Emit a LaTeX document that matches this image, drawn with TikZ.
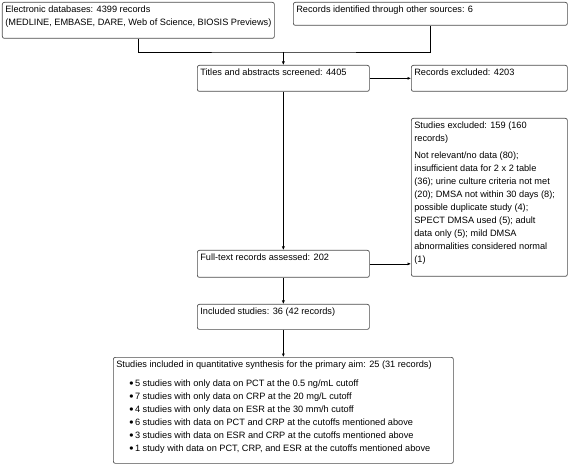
\documentclass[tikz,border=0pt]{standalone}
\usepackage{fontspec}
\setmainfont{Liberation Sans}
\usetikzlibrary{arrows.meta}
\tikzset{
  box/.style={draw=black!70, line width=0.7pt, rounded corners=2pt, anchor=north west, inner sep=3pt, font=\fontsize{9.2}{13}\selectfont},
  conn/.style={draw=black, line width=0.6pt},
  arr/.style={conn, -{Latex[length=3.5pt,width=3pt]}}
}
\newcommand{\boxtext}[3]{\parbox[c][#2][t]{#1}{\raggedright #3}}
\newcommand{\itm}{\hspace*{13pt}\raisebox{-1.2pt}{\fontsize{12}{13}\selectfont\textbullet}\hspace{1.5pt}}
\begin{document}
\begin{tikzpicture}[x=1pt,y=1pt]
  \useasboundingbox (0,0) rectangle (568,-465);
  % sources
  \node[box] (elec) at (2,-2) {\boxtext{266pt}{30pt}{Electronic databases: 4399 records\\(MEDLINE, EMBASE, DARE, Web of Science, BIOSIS Previews)}};
  \node[box] (other) at (293,-2) {\boxtext{268pt}{17pt}{Records identified through other sources: 6}};
  % screening
  \node[box] (screen) at (197,-65) {\boxtext{166pt}{20pt}{Titles and abstracts screened: 4405}};
  \node[box] (excl) at (411,-65) {\boxtext{150pt}{20pt}{Records excluded: 4203}};
  \node[box] (exclft) at (411,-118) {\boxtext{150pt}{152pt}{Studies excluded: 159 (160\\records)\\[4pt]
    Not relevant/no data (80);\\insufficient data for 2 x 2 table\\(36); urine culture criteria not met\\(20); DMSA not within 30 days (8);\\possible duplicate study (4);\\SPECT DMSA used (5); adult\\data only (5); mild DMSA\\abnormalities considered normal\\(1)}};
  \node[box] (fulltext) at (197,-250) {\boxtext{166pt}{21pt}{Full-text records assessed: 202}};
  \node[box] (incl) at (197,-304) {\boxtext{166pt}{19pt}{Included studies: 36 (42 records)}};
  \node[box] (quant) at (113,-357) {\boxtext{334pt}{100pt}{Studies included in quantitative synthesis for the primary aim: 25 (31 records)\\[6pt]
    \itm 5 studies with only data on PCT at the 0.5 ng/mL cutoff\\
    \itm 7 studies with only data on CRP at the 20 mg/L cutoff\\
    \itm 4 studies with only data on ESR at the 30 mm/h cutoff\\
    \itm 6 studies with data on PCT and CRP at the cutoffs mentioned above\\
    \itm 3 studies with data on ESR and CRP at the cutoffs mentioned above\\
    \itm 1 study with data on PCT, CRP, and ESR at the cutoffs mentioned above}};
  % connectors
  \coordinate (join) at (screen.north |- 0,-52);
  \draw[conn] (elec.south) |- (join) -| (other.south);
  \draw[arr] (join) -- (screen.north);
  \draw[arr] (screen.east) -- (excl.west);
  \draw[arr] (screen.south) -- (fulltext.north);
  \draw[arr] (fulltext.east) -- (fulltext.east -| exclft.west);
  \draw[arr] (fulltext.south) -- (incl.north);
  \draw[arr] (incl.south) -- (quant.north);
\end{tikzpicture}
\end{document}
